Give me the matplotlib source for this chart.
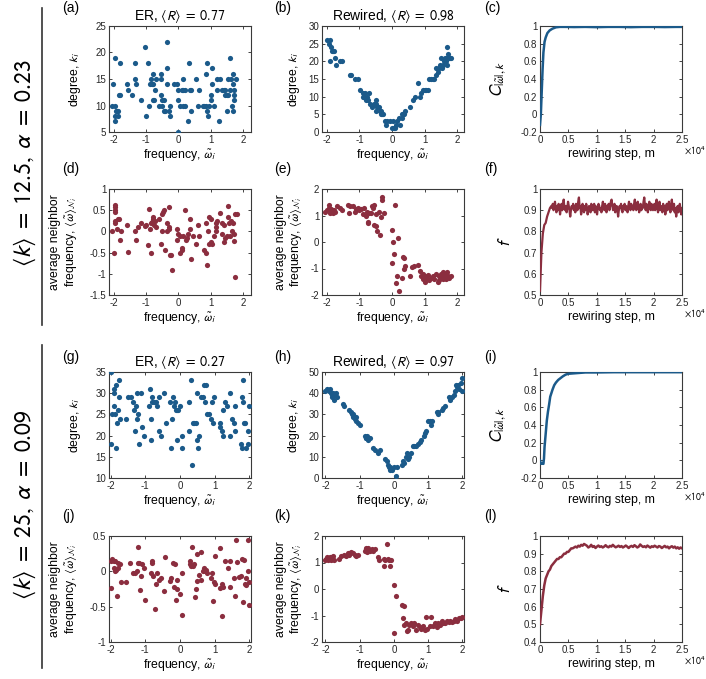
import numpy as np
import matplotlib
matplotlib.use("Agg")
import matplotlib.pyplot as plt
from matplotlib.ticker import FuncFormatter

plt.rcParams.update({
    "font.family": ["Liberation Sans", "DejaVu Sans"],
    "mathtext.fontset": "stixsans",
    "axes.unicode_minus": False,
    "font.size": 8,
    "xtick.labelsize": 7,
    "ytick.labelsize": 7,
    "axes.labelsize": 8.8,
})

blue = "#1b5a8a"
red = "#8b2e3f"
framecol = "#3a3a3a"

# ---- row 1: <k>=12.5 ----
er1_degree = [(-2.07,10),(-2.02,14),(-1.97,19),(-1.95,10),(-1.95,8),(-1.95,7),(-1.93,9),(-1.9,9),
    (-1.88,9),(-1.87,8),(-1.85,12),(-1.82,12),(-1.8,18),(-1.6,14),(-1.57,13),(-1.43,12),(-1.35,18),
    (-1.33,15),(-1.3,14),(-1.15,11),(-1.03,21),(-1.0,8),(-0.95,18),(-0.9,10),(-0.87,14),(-0.85,15),
    (-0.83,14),(-0.8,16),(-0.78,14),(-0.8,11),(-0.75,11),(-0.73,13),(-0.7,15),(-0.6,10),(-0.55,16),
    (-0.55,15),(-0.53,12),(-0.5,11),(-0.5,10),(-0.45,11),(-0.45,9),(-0.4,9),(-0.35,22),(-0.35,17),
    (-0.35,14),(-0.3,9),(-0.25,10),(-0.25,8),(-0.15,14),(-0.05,14),(0.0,13),(0.0,11),(0.0,5),
    (0.05,10),(0.1,13),(0.15,13),(0.15,15),(0.15,10),(0.2,10),(0.2,13),(0.3,7),(0.33,18),(0.35,13),
    (0.4,13),(0.4,9),(0.55,15),(0.6,10),(0.65,13),(0.75,10),(0.8,10),(0.85,16),(0.85,10),(0.9,9),
    (0.9,18),(0.93,8),(0.95,10),(1.0,12),(1.0,11),(1.05,17),(1.05,14),(1.1,10),(1.2,15),(1.2,13),
    (1.25,7),(1.3,15),(1.35,13),(1.4,13),(1.45,12),(1.45,13),(1.5,12),(1.5,9),(1.55,15),(1.55,12),
    (1.6,19),(1.6,13),(1.62,15),(1.65,10),(1.68,14),(1.7,9),(1.7,16),(1.72,13),(1.72,12),(1.72,11),
    (1.8,15)]
rw1_degree = [(-2.0,26),(-1.95,25),(-1.9,26),(-1.88,24),(-1.85,23),(-1.82,23),(-1.78,23),(-1.9,20),
    (-1.75,21),(-1.72,19),(-1.6,20),(-1.55,20),(-1.3,16),(-1.25,16),(-1.15,15),(-1.05,15),(-0.97,12),
    (-0.9,11),(-0.88,10),(-0.85,10),(-0.82,11),(-0.8,9),(-0.78,10),(-0.75,9),(-0.7,11),(-0.68,8),
    (-0.6,7),(-0.55,8),(-0.5,9),(-0.5,6),(-0.48,8),(-0.45,7),(-0.4,7),(-0.38,6),(-0.35,5),(-0.33,6),
    (-0.3,5),(-0.28,5),(-0.22,3),(-0.2,2),(-0.15,3),(-0.05,3),(0.0,1),(0.02,3),(0.05,1),(0.1,1),
    (0.12,2),(0.15,3),(0.2,4),(0.25,2),(0.3,4),(0.3,5),(0.35,5),(0.38,5),(0.4,6),(0.55,7),(0.65,9),
    (0.7,10),(0.8,14),(0.85,10),(0.9,11),(0.95,12),(1.0,12),(1.05,12),(1.1,12),(1.15,15),(1.2,15),
    (1.25,15),(1.3,15),(1.35,16),(1.35,18),(1.4,17),(1.45,18),(1.48,19),(1.5,21),(1.52,18),(1.55,19),
    (1.6,20),(1.62,21),(1.65,20),(1.68,21),(1.7,24),(1.72,22),(1.75,21),(1.78,21),(1.82,21),(1.68,19)]
er1_nbr = [(-2.05,0.0),(-2.0,-0.5),(-1.95,0.62),(-1.95,0.58),(-1.95,0.5),(-1.95,0.45),(-1.95,0.25),
    (-1.95,0.2),(-1.9,0.05),(-1.88,0.3),(-1.85,0.3),(-1.82,-0.2),(-1.78,0.0),(-1.6,0.15),(-1.55,-0.48),
    (-1.35,0.0),(-1.3,-0.2),(-1.25,0.1),(-1.15,0.2),(-1.05,0.12),(-1.0,0.15),(-0.95,-0.33),(-0.9,0.52),
    (-0.88,0.05),(-0.85,0.2),(-0.83,0.22),(-0.8,0.3),(-0.78,0.35),(-0.75,0.15),(-0.73,0.25),(-0.7,0.1),
    (-0.85,-0.5),(-0.6,0.3),(-0.55,-0.3),(-0.52,0.0),(-0.5,0.4),(-0.48,0.45),(-0.45,0.5),(-0.4,-0.45),
    (-0.35,0.2),(-0.35,0.0),(-0.3,0.58),(-0.3,0.05),(-0.28,0.1),(-0.25,-0.55),(-0.22,-0.55),(-0.2,-0.9),
    (-0.05,-0.2),(-0.03,0.05),(0.0,-0.05),(0.05,-0.1),(0.05,-0.5),(0.1,-0.45),(0.12,-0.4),(0.15,-0.1),
    (0.2,0.5),(0.25,-0.2),(0.28,-0.15),(0.3,-0.05),(0.35,0.3),(0.35,0.05),(0.4,-0.65),(0.45,-0.1),
    (0.55,-0.3),(0.6,0.15),(0.65,-0.1),(0.8,-0.45),(0.85,-0.5),(0.85,0.2),(0.9,-0.8),(0.92,0.0),
    (0.95,-0.3),(0.95,0.33),(1.0,0.3),(1.0,-0.25),(1.05,-0.3),(1.1,-0.1),(1.15,0.2),(1.15,0.1),
    (1.18,0.02),(1.2,0.25),(1.3,0.43),(1.35,0.2),(1.35,-0.05),(1.4,-0.25),(1.4,0.15),(1.45,-0.15),
    (1.5,-0.1),(1.55,0.6),(1.55,0.35),(1.58,0.2),(1.6,-0.1),(1.62,0.25),(1.65,0.0),(1.7,0.2),
    (1.72,-0.22),(1.72,-0.05),(1.75,-1.07),(1.75,0.4),(1.82,0.42)]
rw1_nbr = [(-2.05,1.15),(-2.0,1.2),(-1.95,1.3),(-1.93,1.4),(-1.9,1.1),(-1.88,1.25),(-1.85,1.2),
    (-1.82,1.1),(-1.78,1.2),(-1.75,1.15),(-1.7,1.35),(-1.6,1.3),(-1.55,1.2),(-1.35,1.4),(-1.33,1.1),
    (-1.3,1.35),(-1.2,1.35),(-1.15,1.15),(-1.1,1.25),(-1.05,1.3),(-1.0,1.2),(-0.95,1.25),(-0.9,1.05),
    (-0.85,1.3),(-0.8,1.0),(-0.78,1.15),(-0.75,0.75),(-0.73,0.7),(-0.7,1.1),(-0.65,1.1),(-0.6,1.35),
    (-0.58,1.3),(-0.55,1.4),(-0.55,0.65),(-0.5,0.6),(-0.5,1.05),(-0.45,0.4),(-0.4,1.15),(-0.38,0.25),
    (-0.35,0.95),(-0.3,1.7),(-0.3,1.6),(-0.25,1.1),(0.0,0.45),(0.0,-0.8),(0.02,0.0),(0.05,-0.45),
    (0.1,1.4),(0.12,-1.55),(0.15,-1.3),(0.18,0.15),(0.2,-1.85),(0.3,-1.35),(0.35,-0.55),(0.37,-0.6),
    (0.38,-1.0),(0.4,-0.9),(0.55,-1.3),(0.6,-0.95),(0.68,-0.9),(0.8,-0.85),(0.85,-1.1),(0.9,-1.3),
    (0.95,-1.4),(0.95,-1.2),(1.0,-1.5),(1.0,-1.3),(1.05,-1.35),(1.1,-1.25),(1.15,-1.45),(1.2,-1.35),
    (1.25,-1.3),(1.3,-1.4),(1.35,-1.2),(1.4,-1.5),(1.45,-1.3),(1.5,-1.2),(1.5,-1.35),(1.55,-1.15),
    (1.6,-1.3),(1.65,-1.25),(1.65,-1.4),(1.7,-1.15),(1.72,-1.3),(1.75,-1.35),(1.8,-1.3),(1.55,-1.4),
    (1.45,-1.45)]

c1_steps = [0, 150, 300, 450, 600, 800, 1000, 1300, 1700, 2200, 2800, 3500, 4500, 6000, 8000,
    10000, 12000, 14000, 16000, 18000, 20000, 22000, 24000, 25000]
c1_corr = [-0.12, 0.0, 0.25, 0.5, 0.7, 0.82, 0.87, 0.92, 0.95, 0.97, 0.985, 0.99, 0.99, 0.988,
    0.99, 0.987, 0.99, 0.99, 0.987, 0.99, 0.99, 0.988, 0.99, 0.99]

f1_early_steps = [0, 250, 500, 750, 1000, 1250, 1500, 1750, 2000]
f1_early = [0.52, 0.70, 0.79, 0.83, 0.84, 0.87, 0.89, 0.91, 0.92]
f1_tail = [0.91, 0.93, 0.90, 0.92, 0.94, 0.91, 0.89, 0.92, 0.90, 0.93,
    0.92, 0.88, 0.91, 0.93, 0.90, 0.92, 0.95, 0.91, 0.90, 0.92,
    0.89, 0.91, 0.94, 0.92, 0.90, 0.87, 0.90, 0.92, 0.91, 0.93,
    0.90, 0.92, 0.89, 0.93, 0.91, 0.90, 0.94, 0.96, 0.91, 0.92,
    0.88, 0.90, 0.93, 0.91, 0.89, 0.92, 0.90, 0.93, 0.91, 0.88,
    0.90, 0.92, 0.91, 0.89, 0.93, 0.92, 0.90, 0.91, 0.93, 0.89,
    0.92, 0.90, 0.88, 0.91, 0.93, 0.92, 0.90, 0.91, 0.89, 0.92,
    0.94, 0.91, 0.90, 0.93, 0.91, 0.89, 0.92, 0.91, 0.93, 0.90,
    0.92, 0.94, 0.95, 0.92, 0.90, 0.91, 0.93, 0.89, 0.91, 0.92,
    0.90, 0.87, 0.90, 0.92, 0.91, 0.93, 0.90, 0.89, 0.92, 0.91,
    0.93, 0.90, 0.92, 0.91, 0.89, 0.92, 0.94, 0.91, 0.90, 0.93,
    0.91, 0.92, 0.90, 0.93, 0.95, 0.92, 0.90, 0.91, 0.94, 0.92,
    0.89, 0.91, 0.93, 0.90, 0.92, 0.91, 0.94, 0.96, 0.92, 0.90,
    0.93, 0.91, 0.89, 0.92, 0.94, 0.91, 0.90, 0.93, 0.92, 0.90,
    0.91, 0.93, 0.90, 0.92, 0.95, 0.91, 0.89, 0.92, 0.94, 0.90,
    0.92, 0.91, 0.89, 0.93, 0.90, 0.92, 0.88, 0.91, 0.93, 0.90,
    0.92, 0.94, 0.91, 0.89, 0.92, 0.95, 0.91, 0.90, 0.93, 0.89,
    0.91, 0.87, 0.90, 0.92, 0.89, 0.91, 0.93, 0.90, 0.88, 0.91]

# ---- row 2: <k>=25 ----
er2_degree = [(-2.0,35),(-2.0,18),(-1.95,25),(-1.92,31),(-1.9,27),(-1.9,30),(-1.88,25),(-1.85,32),
    (-1.85,17),(-1.82,23),(-1.8,26),(-1.75,33),(-1.75,29),(-1.73,24),(-1.55,24),(-1.5,29),(-1.42,29),
    (-1.35,28),(-1.32,26),(-1.3,21),(-1.28,27),(-1.25,30),(-1.23,24),(-1.2,25),(-1.18,18),(-1.12,30),
    (-1.1,22),(-1.05,20),(-0.9,27),(-0.87,31),(-0.85,19),(-0.83,24),(-0.8,29),(-0.8,28),(-0.75,28),
    (-0.7,28),(-0.65,27),(-0.62,29),(-0.6,21),(-0.55,20),(-0.45,30),(-0.4,23),(-0.3,28),(-0.25,17),
    (-0.22,24),(-0.2,29),(-0.18,27),(-0.15,28),(-0.12,26),(-0.1,19),(-0.08,26),(-0.05,26),(0.0,27),
    (0.05,17),(0.05,20),(0.25,28),(0.25,21),(0.32,33),(0.35,13),(0.38,23),(0.4,23),(0.45,23),
    (0.48,19),(0.5,30),(0.52,17),(0.55,20),(0.6,29),(0.65,29),(0.7,32),(0.72,28),(0.75,32),(0.78,25),
    (0.85,25),(0.9,24),(0.92,28),(0.95,23),(0.98,29),(1.15,23),(1.15,22),(1.2,21),(1.25,20),(1.25,26),
    (1.3,28),(1.35,27),(1.45,30),(1.45,20),(1.5,24),(1.55,23),(1.6,27),(1.6,21),(1.75,18),(1.8,17),
    (1.82,33),(1.8,29),(1.82,28),(1.85,23),(1.88,23),(1.92,17),(1.95,18),(1.97,21),(2.0,27)]
rw2_degree = [(-2.0,41),(-1.95,42),(-1.9,41),(-1.88,42),(-1.85,40),(-1.82,38),(-1.8,39),(-1.78,40),
    (-1.75,37),(-1.72,39),(-1.7,40),(-1.65,38),(-1.5,35),(-1.45,34),(-1.3,32),(-1.25,31),(-1.22,30),
    (-1.2,29),(-1.18,30),(-1.15,28),(-1.12,29),(-1.1,27),(-1.05,26),(-1.0,25),(-0.85,20),(-0.82,19),
    (-0.8,19),(-0.78,20),(-0.75,18),(-0.7,19),(-0.6,14),(-0.55,13),(-0.45,12),(-0.4,13),(-0.25,9),
    (-0.2,8),(-0.18,6),(-0.15,5),(-0.12,4),(-0.1,5),(-0.05,4),(0.0,5),(0.05,1),(0.1,5),(0.25,6),
    (0.28,8),(0.3,7),(0.35,10),(0.38,12),(0.42,9),(0.45,10),(0.5,12),(0.55,15),(0.6,15),(0.65,15),
    (0.7,16),(0.75,17),(0.8,18),(0.88,20),(0.92,21),(0.95,22),(1.0,27),(1.05,27),(1.1,25),(1.12,27),
    (1.25,31),(1.28,30),(1.3,31),(1.4,32),(1.45,33),(1.5,34),(1.6,38),(1.65,37),(1.7,38),(1.75,39),
    (1.8,41),(1.82,44),(1.85,43),(1.88,44),(1.9,42),(1.95,45),(1.98,41),(2.0,47)]
er2_nbr = [(-2.0,-0.24),(-2.0,0.15),(-1.95,0.18),(-1.92,0.15),(-1.9,0.05),(-1.88,0.0),(-1.87,0.15),
    (-1.85,0.02),(-1.82,-0.35),(-1.8,0.12),(-1.78,0.05),(-1.72,0.1),(-1.7,-0.15),(-1.55,-0.15),
    (-1.45,0.12),(-1.35,-0.03),(-1.3,-0.02),(-1.25,0.0),(-1.22,0.12),(-1.2,0.35),(-1.18,0.12),
    (-1.15,-0.26),(-1.12,-0.06),(-1.1,0.1),(-1.05,0.05),(-1.0,-0.4),(-0.85,-0.02),(-0.82,0.14),
    (-0.8,0.12),(-0.78,-0.06),(-0.72,-0.53),(-0.7,-0.18),(-0.65,-0.02),(-0.62,-0.12),(-0.55,-0.1),
    (-0.45,-0.28),(-0.42,0.2),(-0.3,-0.13),(-0.25,-0.1),(-0.2,0.12),(-0.18,-0.22),(-0.15,0.1),
    (-0.12,-0.4),(-0.1,-0.12),(-0.08,-0.25),(0.0,-0.32),(0.05,-0.62),(0.07,-0.03),(0.28,0.15),
    (0.3,0.1),(0.32,0.07),(0.35,0.35),(0.38,0.08),(0.4,0.1),(0.42,-0.36),(0.45,-0.25),(0.48,0.25),
    (0.5,-0.14),(0.55,-0.05),(0.6,-0.12),(0.62,0.28),(0.65,0.0),(0.7,0.05),(0.72,0.0),(0.75,0.02),
    (0.78,-0.02),(0.9,-0.1),(0.92,-0.03),(0.95,-0.42),(0.97,-0.15),(1.0,-0.18),(1.0,0.22),(1.15,0.33),
    (1.15,-0.23),(1.2,-0.63),(1.22,-0.18),(1.25,-0.22),(1.3,0.14),(1.4,0.05),(1.45,-0.22),(1.45,0.15),
    (1.55,-0.1),(1.6,-0.35),(1.62,0.44),(1.65,0.13),(1.7,-0.08),(1.75,-0.06),(1.8,0.17),(1.82,-0.43),
    (1.85,0.16),(1.88,-0.18),(1.9,-0.2),(1.92,-0.1),(1.95,0.44),(1.97,0.0),(1.98,-0.15),(2.0,-0.47)]
rw2_nbr = [(-2.0,1.1),(-1.98,1.15),(-1.95,1.2),(-1.92,1.1),(-1.9,1.15),(-1.88,1.2),(-1.85,1.1),
    (-1.82,1.2),(-1.8,1.15),(-1.78,1.25),(-1.75,1.1),(-1.6,1.15),(-1.55,1.25),(-1.45,1.3),(-1.4,1.25),
    (-1.35,1.35),(-1.3,1.3),(-1.28,1.35),(-1.25,1.4),(-1.2,1.35),(-1.15,1.3),(-1.1,1.25),(-1.05,1.3),
    (-0.85,1.45),(-0.82,1.55),(-0.8,1.5),(-0.78,1.4),(-0.75,1.55),(-0.7,1.45),(-0.65,1.5),(-0.6,1.45),
    (-0.55,1.5),(-0.45,1.2),(-0.42,1.1),(-0.3,1.15),(-0.28,0.85),(-0.25,1.1),(-0.2,1.7),(-0.18,1.15),
    (-0.15,1.1),(-0.1,0.85),(-0.08,1.1),(0.0,0.15),(0.05,-0.28),(0.0,-1.65),(0.25,-0.6),(0.28,-1.1),
    (0.3,-0.65),(0.3,-1.35),(0.35,-1.3),(0.38,-1.6),(0.4,-1.55),(0.45,-1.35),(0.5,-1.3),(0.55,-1.4),
    (0.6,-1.3),(0.65,-1.55),(0.7,-1.35),(0.75,-1.45),(0.8,-1.5),(0.85,-1.4),(0.9,-1.55),(0.95,-1.05),
    (0.98,-1.5),(1.05,-1.4),(1.1,-1.05),(1.15,-1.4),(1.2,-1.3),(1.25,-1.45),(1.3,-1.3),(1.35,-1.35),
    (1.4,-1.2),(1.45,-1.3),(1.5,-1.3),(1.55,-1.2),(1.6,-1.25),(1.65,-1.2),(1.7,-1.25),(1.75,-1.2),
    (1.8,-1.15),(1.85,-1.2),(1.9,-1.1),(1.95,-1.1),(2.0,-1.05)]

c2_steps = [0, 100, 200, 400, 600, 700, 800, 1000, 1200, 1400, 1600, 1800, 2000, 2200, 2500, 2800,
    3200, 3600, 4000, 4500, 5000, 6000, 7000, 8000, 10000, 13000, 16000, 19000, 22000, 25000]
c2_corr = [0.0, -0.03, -0.04, -0.03, -0.04, 0.02, 0.15, 0.3, 0.45, 0.55, 0.63, 0.72, 0.76, 0.8,
    0.85, 0.88, 0.91, 0.93, 0.95, 0.97, 0.98, 0.985, 0.99, 0.995, 0.995, 0.998, 0.998, 0.998,
    0.998, 0.998]

f2_early_steps = [0, 250, 500, 750, 1000, 1250, 1500, 1750, 2000, 2250, 2500, 2750, 3000, 3250,
    3500, 3750, 4000, 4250, 4500, 4750, 5000, 5250, 5500, 5750, 6000, 6250, 6500, 6750, 7000,
    7250, 7500, 7750, 8000]
f2_early = [0.50, 0.58, 0.66, 0.72, 0.76, 0.78, 0.80, 0.81, 0.83, 0.84, 0.85, 0.86, 0.87, 0.87,
    0.88, 0.88, 0.89, 0.90, 0.90, 0.91, 0.91, 0.92, 0.93, 0.93, 0.935, 0.94, 0.935, 0.945, 0.94,
    0.95, 0.945, 0.955, 0.95]
f2_tail = [0.945, 0.935, 0.94, 0.95, 0.938, 0.943, 0.932, 0.94, 0.946, 0.938, 0.942, 0.935, 0.94,
    0.948, 0.94, 0.936, 0.944, 0.94, 0.95, 0.942, 0.936, 0.94, 0.945, 0.938, 0.943, 0.935, 0.94,
    0.946, 0.94, 0.932, 0.94, 0.944, 0.938, 0.948, 0.942, 0.935, 0.94, 0.952, 0.944, 0.938, 0.942,
    0.936, 0.946, 0.94, 0.934, 0.942, 0.938, 0.945, 0.94, 0.935, 0.943, 0.94, 0.932, 0.938, 0.944,
    0.936, 0.94, 0.93, 0.938, 0.942, 0.934, 0.94, 0.93, 0.936, 0.928, 0.935, 0.93]

freq_xticks = [-2, -1, 0, 1, 2]
step_xticks = [0, 5000, 10000, 15000, 20000, 25000]

W, H = 706, 679
fig = plt.figure(figsize=(W / 100, H / 100), dpi=100)
col_left = [109, 322, 540]
row_top = [26, 189, 372, 536]
ylabel_pad = [9, 5, 9]


def make_ax(col, row):
    l, t, w, h = col_left[col], row_top[row], 142, 106
    ax = fig.add_axes([l / W, 1 - (t + h) / H, w / W, h / H])
    ax.tick_params(direction="in", top=True, right=True, length=2.5, width=0.6,
                   colors="#262626", pad=2)
    for s in ax.spines.values():
        s.set_color(framecol)
        s.set_linewidth(0.8)
    ax.yaxis.set_major_formatter(FuncFormatter(lambda v, p: "%g" % round(v, 6)))
    return ax


def scatter_panel(ax, pts, color, ylim, yticks, xlim):
    arr = np.array(pts)
    ax.scatter(arr[:, 0], arr[:, 1], s=14, color=color, linewidths=0, zorder=3)
    ax.set_xlim(*xlim)
    ax.set_ylim(*ylim)
    ax.set_xticks(freq_xticks)
    ax.set_yticks(yticks)
    ax.set_xlabel(r"frequency, $\tilde{\omega}_i$", labelpad=2)


def step_panel(ax, steps, vals, color, ylim, yticks, lw):
    ax.plot(steps, vals, color=color, lw=lw, zorder=3)
    ax.set_xlim(0, 25000)
    ax.set_ylim(*ylim)
    ax.set_xticks(step_xticks)
    ax.set_yticks(yticks)
    ax.xaxis.set_major_formatter(FuncFormatter(lambda v, p: "%g" % (v / 1e4)))
    ax.set_xlabel("rewiring step, m", labelpad=2)
    ax.text(1.015, -0.115, r"$\times 10^4$", transform=ax.transAxes, ha="left", va="top",
            fontsize=7)


nbr_label = "average neighbor\n" + r"frequency, $\langle\tilde{\omega}\rangle_{\mathcal{N}_i}$"
deg_label = r"degree, $k_i$"
corr_label = r"$C_{|\tilde{\omega}|,k}$"
title_fs = 10

# row 1
ax = make_ax(0, 0)
scatter_panel(ax, er1_degree, blue, (5, 25), [5, 10, 15, 20, 25], (-2.15, 2.25))
ax.set_ylabel(deg_label, labelpad=ylabel_pad[0])
ax.set_title(r"ER, $\langle R\rangle\;=\;0.77$", fontsize=title_fs, pad=4)

ax = make_ax(1, 0)
scatter_panel(ax, rw1_degree, blue, (0, 30), [0, 5, 10, 15, 20, 25, 30], (-2.15, 2.21))
ax.set_ylabel(deg_label, labelpad=ylabel_pad[1])
ax.set_title(r"Rewired, $\langle R\rangle\;=\;0.98$", fontsize=title_fs, pad=4)

ax = make_ax(2, 0)
step_panel(ax, c1_steps, c1_corr, blue, (-0.2, 1), [-0.2, 0, 0.2, 0.4, 0.6, 0.8, 1], 1.8)
ax.set_ylabel(corr_label, fontsize=12, labelpad=ylabel_pad[2])

ax = make_ax(0, 1)
scatter_panel(ax, er1_nbr, red, (-1.5, 1), [-1.5, -1, -0.5, 0, 0.5, 1], (-2.15, 2.25))
ax.set_ylabel(nbr_label, labelpad=ylabel_pad[0] - 2)

ax = make_ax(1, 1)
scatter_panel(ax, rw1_nbr, red, (-2, 2), [-2, -1, 0, 1, 2], (-2.15, 2.21))
ax.set_ylabel(nbr_label, labelpad=ylabel_pad[1] - 1)

ax = make_ax(2, 1)
f1_steps = np.concatenate([f1_early_steps, np.linspace(2125, 25000, len(f1_tail))])
step_panel(ax, f1_steps, f1_early + f1_tail, red, (0.5, 1), [0.5, 0.6, 0.7, 0.8, 0.9, 1], 1.6)
ax.set_ylabel(r"$f$", fontsize=12, labelpad=8)

# row 2
ax = make_ax(0, 2)
scatter_panel(ax, er2_degree, blue, (10, 35), [10, 15, 20, 25, 30, 35], (-2.05, 2.05))
ax.set_ylabel(deg_label, labelpad=ylabel_pad[0])
ax.set_title(r"ER, $\langle R\rangle\;=\;0.27$", fontsize=title_fs, pad=4)

ax = make_ax(1, 2)
scatter_panel(ax, rw2_degree, blue, (0, 50), [0, 10, 20, 30, 40, 50], (-2.1, 2.05))
ax.set_ylabel(deg_label, labelpad=ylabel_pad[1])
ax.set_title(r"Rewired, $\langle R\rangle\;=\;0.97$", fontsize=title_fs, pad=4)

ax = make_ax(2, 2)
step_panel(ax, c2_steps, c2_corr, blue, (-0.2, 1), [-0.2, 0, 0.2, 0.4, 0.6, 0.8, 1], 1.8)
ax.set_ylabel(corr_label, fontsize=12, labelpad=ylabel_pad[2])

ax = make_ax(0, 3)
scatter_panel(ax, er2_nbr, red, (-1, 0.5), [-1, -0.5, 0, 0.5], (-2.05, 2.05))
ax.set_ylabel(nbr_label, labelpad=ylabel_pad[0] - 2)

ax = make_ax(1, 3)
scatter_panel(ax, rw2_nbr, red, (-2, 2), [-2, -1, 0, 1, 2], (-2.1, 2.05))
ax.set_ylabel(nbr_label, labelpad=ylabel_pad[1] - 1)

ax = make_ax(2, 3)
f2_steps = np.concatenate([f2_early_steps, np.linspace(8250, 25000, len(f2_tail))])
step_panel(ax, f2_steps, f2_early + f2_tail, red, (0.4, 1), [0.4, 0.5, 0.6, 0.7, 0.8, 0.9, 1], 1.8)
ax.set_ylabel(r"$f$", fontsize=12, labelpad=8)

# panel letters
letters = ["(a)", "(b)", "(c)", "(d)", "(e)", "(f)", "(g)", "(h)", "(i)", "(j)", "(k)", "(l)"]
letter_x = [62, 274, 484]
letter_y = [8, 169, 357, 516]
for i, lab in enumerate(letters):
    r, c = divmod(i, 3)
    fig.text(letter_x[c] / W, 1 - letter_y[r] / H, lab, fontsize=10, ha="left", va="center")

# row group labels and separators
groups = [r"$\langle k\rangle\;=\;12.5,\;\alpha\;=\;0.23$",
          r"$\langle k\rangle\;=\;25,\;\alpha\;=\;0.09$"]
group_y = [163, 505]
group_span = [(8, 325), (345, 668)]
for txt, gy, (y0, y1) in zip(groups, group_y, group_span):
    fig.text(25 / W, 1 - gy / H, txt, rotation=90, fontsize=17, ha="center", va="center")
    fig.add_artist(plt.Line2D([42 / W, 42 / W], [1 - y0 / H, 1 - y1 / H], color="#333333",
                              lw=1.2, transform=fig.transFigure))

fig.savefig("out.png", dpi=100)
